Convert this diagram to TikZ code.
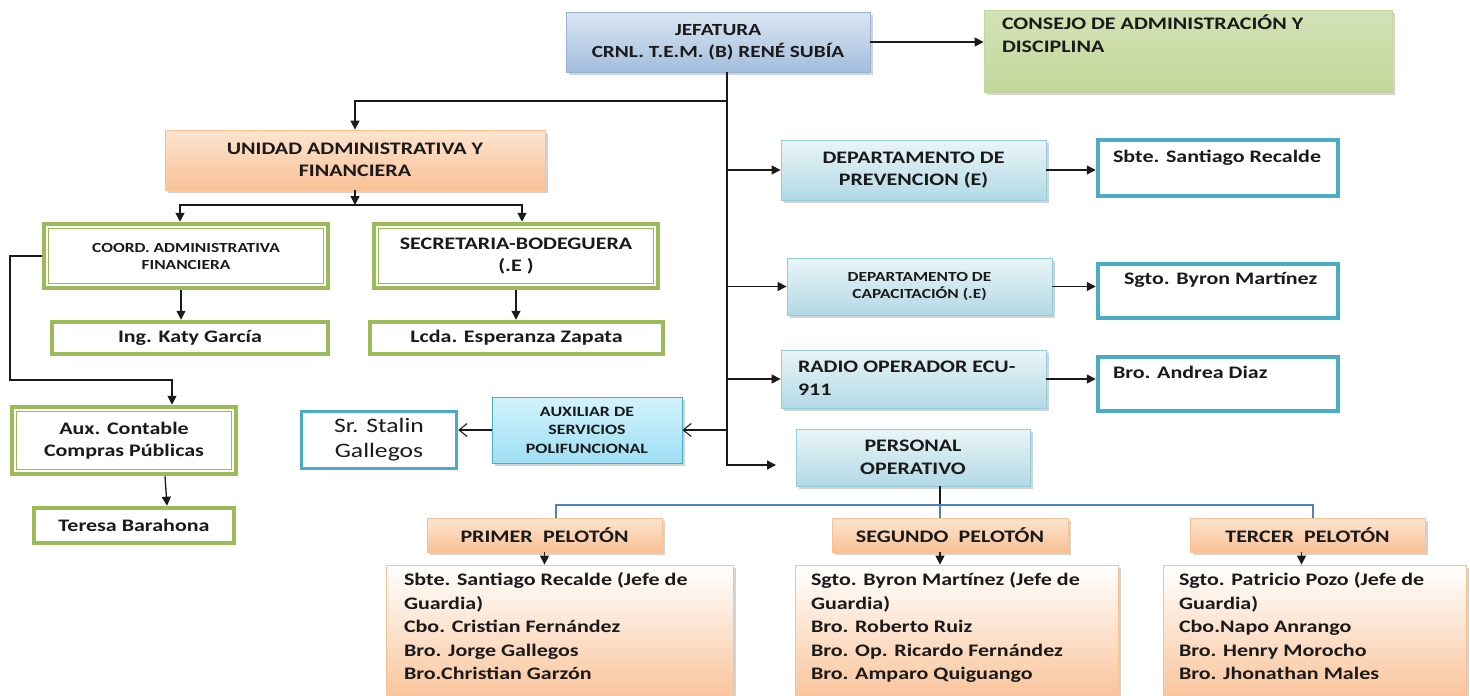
\documentclass[tikz,border=0pt]{standalone}
\usepackage{fontspec}
\setmainfont{Carlito}[FakeStretch=1.25]
\usetikzlibrary{arrows.meta,shadows,calc}
\definecolor{jefT}{HTML}{DCE6F2}
\definecolor{jefB}{HTML}{A3BDDD}
\definecolor{jefD}{HTML}{95B3D7}
\definecolor{depT}{HTML}{EAF5F8}
\definecolor{depB}{HTML}{B2D9E5}
\definecolor{depD}{HTML}{93CDDD}
\definecolor{auxT}{HTML}{D3F3FD}
\definecolor{auxB}{HTML}{9EDFF5}
\definecolor{auxD}{HTML}{4BACC6}
\definecolor{orT}{HTML}{FDE4D0}
\definecolor{orB}{HTML}{F9C196}
\definecolor{orD}{HTML}{FAC090}
\definecolor{grT}{HTML}{D3E2B6}
\definecolor{grM}{HTML}{EBF1DE}
\definecolor{grB}{HTML}{C3D69B}
\definecolor{grD}{HTML}{C3D69B}
\definecolor{greenA}{HTML}{9BBB59}
\definecolor{tealA}{HTML}{4BACC6}
\definecolor{busC}{HTML}{4F81BD}
\definecolor{ink}{HTML}{1A1A1A}
\newcommand\myfA{\bfseries\fontsize{17.6}{22.5}\selectfont}
\newcommand\myfJ{\bfseries\fontsize{17}{22}\selectfont}
\newcommand\myfS{\bfseries\fontsize{13.9}{17}\selectfont}
\newcommand\myfX{\bfseries\fontsize{14.3}{18.5}\selectfont}
\newcommand\myfR{\mdseries\fontsize{20.5}{25}\selectfont}
\newcommand\myfM{\bfseries\fontsize{17.6}{23.5}\selectfont}
\newcommand\tlbox[5]{\parbox[c][#2][t]{#1}{\raggedright\leftskip=#3\relax\rule{0pt}{#4}#5\par}}
\tikzset{
  box/.style={inner sep=0pt, align=center, text=ink, font=\myfA},
  tlb/.style={inner sep=0pt, text=ink, font=\myfA},
  shad/.style={drop shadow={shadow xshift=2.5pt,shadow yshift=-2.5pt,opacity=.35}},
  jefbox/.style={box, shad, draw=jefD, line width=.8pt, top color=jefT, bottom color=jefB, font=\myfJ},
  depbox/.style={box, shad, draw=depD, line width=.8pt, top color=depT, bottom color=depB},
  auxbox/.style={box, shad, draw=auxD, line width=.8pt, top color=auxT, bottom color=auxB, font=\myfX},
  orbox/.style={box, shad, draw=orD, line width=.8pt, top color=orT, bottom color=orB},
  membox/.style={tlb, shad, draw=orD, line width=.8pt, top color=white, bottom color=orB, font=\myfM},
  conbox/.style={tlb, shad, draw=grD, line width=.8pt, top color=grT, middle color=grM, bottom color=grB},
  gbox/.style={box, draw=greenA, line width=4.5pt, fill=white},
  gdbox/.style={gbox, path picture={\draw[greenA, line width=.9pt]
      ([shift={(4.5pt,-4.5pt)}]path picture bounding box.north west) rectangle
      ([shift={(-4.5pt,4.5pt)}]path picture bounding box.south east);}},
  tbox/.style={tlb, draw=tealA, line width=4.5pt, fill=white},
  conn/.style={draw=ink, line width=1.3pt},
  arr/.style={conn, -{Triangle[length=9pt,width=9pt]}},
  oarr/.style={conn, line width=1.1pt, -{Straight Barb[length=8pt,width=13pt]}},
  busline/.style={draw=busC, line width=1.3pt},
}
\begin{document}
\begin{tikzpicture}[x=1pt,y=-1pt]
\useasboundingbox (0,0) rectangle (1470,696);
% top
\node[jefbox, minimum width=304pt, minimum height=60pt] (jef) at (718,42) {JEFATURA\\CRNL. T.E.M. (B) RENÉ SUBÍA};
\node[conbox] (con) at (1188,51) {\tlbox{408pt}{82pt}{18pt}{19.5pt}{CONSEJO DE ADMINISTRACIÓN Y\\DISCIPLINA}};
% left branch
\node[orbox, minimum width=380pt, minimum height=60pt] (uni) at (355,160) {UNIDAD ADMINISTRATIVA Y\\FINANCIERA};
\node[gdbox, minimum width=284pt, minimum height=64pt, font=\myfS] (coord) at (186,256) {COORD. ADMINISTRATIVA\\FINANCIERA};
\node[gdbox, minimum width=284pt, minimum height=64pt] (secr) at (516,256) {SECRETARIA-BODEGUERA\\(.E )};
\node[gbox, minimum width=276pt, minimum height=32pt] (katy) at (190,338) {Ing. Katy García};
\node[gbox, minimum width=293pt, minimum height=32pt] (lcda) at (516.5,338) {Lcda. Esperanza Zapata};
\node[gdbox, minimum width=224pt, minimum height=67pt] (auxc) at (124,440.5) {Aux. Contable\\Compras Públicas};
\node[gbox, minimum width=200pt, minimum height=35pt] (ter) at (134,525.5) {Teresa Barahona};
% right branch
\node[depbox, minimum width=265pt, minimum height=60pt] (dprev) at (913.5,170) {DEPARTAMENTO DE\\PREVENCION (E)};
\node[tbox] (sbte) at (1218,168) {\tlbox{240pt}{56pt}{15pt}{22pt}{Sbte. Santiago Recalde}};
\node[depbox, minimum width=265pt, minimum height=57pt, font=\myfS] (dcap) at (919.5,286.5) {DEPARTAMENTO DE\\CAPACITACIÓN (.E)};
\node[tbox] (sgto) at (1218,291) {\tlbox{240pt}{54pt}{26pt}{20pt}{Sgto. Byron Martínez}};
\node[depbox, tlb] (radio) at (913.5,379) {\tlbox{265pt}{58pt}{17pt}{22.5pt}{RADIO OPERADOR ECU-\\911}};
\node[tbox] (bro) at (1218,384) {\tlbox{240pt}{54pt}{15pt}{21pt}{Bro. Andrea Diaz}};
\node[auxbox, minimum width=190pt, minimum height=66pt] (auxs) at (587,430) {AUXILIAR DE\\SERVICIOS\\POLIFUNCIONAL};
\node[gbox, draw=tealA, line width=3.5pt, minimum width=155pt, minimum height=57pt, font=\myfR] (stal) at (379,440) {Sr. Stalin\\Gallegos};
\node[depbox, minimum width=234pt, minimum height=57pt] (pers) at (913,457.5) {PERSONAL\\OPERATIVO};
% platoons
\node[orbox, minimum width=235pt, minimum height=34pt] (p1) at (544.5,535) {PRIMER\hspace{.3em} PELOTÓN};
\node[orbox, minimum width=236pt, minimum height=34pt] (p2) at (950,535) {SEGUNDO\hspace{.3em} PELOTÓN};
\node[orbox, minimum width=235pt, minimum height=34pt] (p3) at (1307.5,535) {TERCER\hspace{.3em} PELOTÓN};
\node[membox] (m1) at (559.5,635) {\tlbox{347pt}{140pt}{18pt}{20.5pt}{Sbte. Santiago Recalde (Jefe de\\Guardia)\\Cbo. Cristian Fernández\\Bro. Jorge Gallegos\\Bro.Christian Garzón}};
\node[membox] (m2) at (956.5,635) {\tlbox{323pt}{140pt}{16pt}{20.5pt}{Sgto. Byron Martínez (Jefe de\\Guardia)\\Bro. Roberto Ruiz\\Bro. Op. Ricardo Fernández\\Bro. Amparo Quiguango}};
\node[membox] (m3) at (1314.5,635) {\tlbox{303pt}{140pt}{16pt}{20.5pt}{Sgto. Patricio Pozo (Jefe de\\Guardia)\\Cbo.Napo Anrango\\Bro. Henry Morocho\\Bro. Jhonathan Males}};
% connectors
\coordinate (tr) at (727,72);
\coordinate (ptip) at (776,465);
\coordinate (j1) at (727,101);
\coordinate (u1) at (355,205);
\coordinate (l1) at (10,380);
\coordinate (b1) at (556,505);
\coordinate (b2) at (940,505);
\coordinate (b3) at (1313,505);
\draw[arr] (tr) |- (ptip);
\draw[arr] (jef.east) -- (con.west |- jef.east);
\draw[arr] (j1) -| (uni.north);
\draw[arr] (uni.south) -- (uni.south |- u1);
\draw[arr] (u1) -| ([xshift=-6pt]coord.north);
\draw[arr] (u1) -| ([xshift=6pt]secr.north);
\draw[arr] ([xshift=-5pt]coord.south) -- ([xshift=-5pt]coord.south |- katy.north);
\draw[arr] (secr.south) -- (secr.south |- lcda.north);
\draw[arr] (coord.west) -| (l1) -| ([xshift=48pt]auxc.north);
\draw[arr] ([xshift=41pt]auxc.south) -- ([xshift=33pt]ter.north);
\draw[arr] (tr |- dprev.west) -- (dprev.west);
\draw[arr] (tr |- dcap.west) -- (dcap.west);
\draw[arr] (tr |- radio.west) -- (radio.west);
\draw[arr] (dprev.east) -- (sbte.west |- dprev.east);
\draw[arr] (dcap.east) -- (sgto.west |- dcap.east);
\draw[arr] (radio.east) -- (bro.west |- radio.east);
\draw[oarr] (tr |- auxs.east) -- (auxs.east);
\draw[oarr] (auxs.west) -- (stal.east |- auxs.west);
\draw[conn] (b2 |- pers.south) -- (b2);
\draw[busline] (b1 |- p1.north) -- (b1) -- (b3) -- (b3 |- p3.north);
\draw[busline] (b2) -- (b2 |- p2.north);
\draw[arr] (p1.south) -- (p1.south |- m1.north);
\draw[arr] (b2 |- p2.south) -- (b2 |- m2.north);
\draw[arr] ([xshift=-6pt]p3.south) -- ([xshift=-6pt]p3.south |- m3.north);
\end{tikzpicture}
\end{document}
